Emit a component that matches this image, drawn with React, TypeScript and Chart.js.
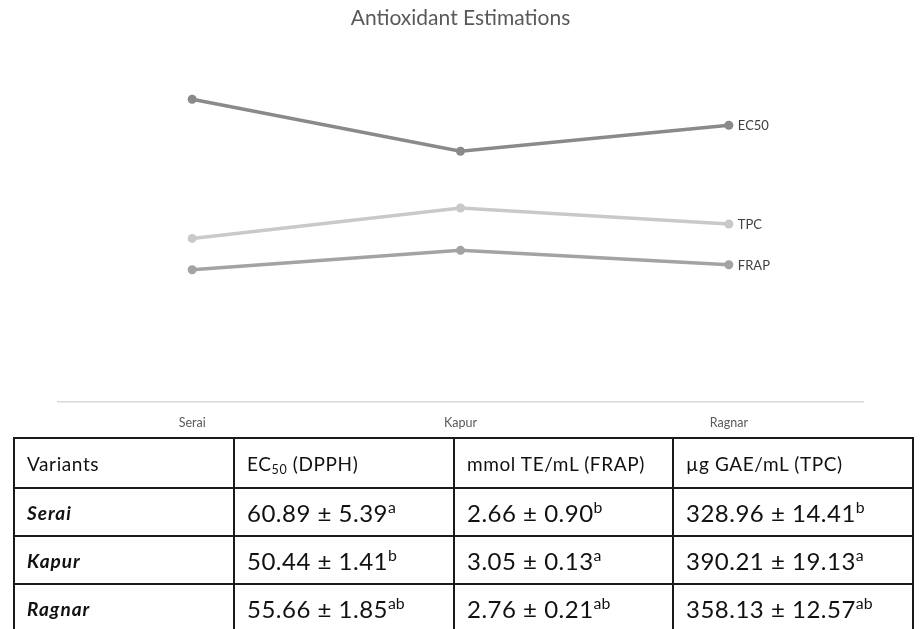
import React, { useEffect, useRef } from "react";
import { Chart, registerables } from "chart.js";

Chart.register(...registerables);

const categories = ["Serai", "Kapur", "Ragnar"];
const seriesNames = ["EC50", "TPC", "FRAP"];
// plotted values (EC50 as is, TPC /10, FRAP x10)
const ec50Values = [60.89, 50.44, 55.66];
const tpcValues = [32.9, 39.02, 35.81];
const frapValues = [26.6, 30.5, 27.6];
const seriesColors = ["#8a8a8a", "#c9c9c9", "#a3a3a3"];

const tableHeaders = ["Variants", "EC50 (DPPH)", "mmol TE/mL (FRAP)", "µg GAE/mL (TPC)"];
const ec50Text = ["60.89 ± 5.39", "50.44 ± 1.41", "55.66 ± 1.85"];
const ec50Sup = ["a", "b", "ab"];
const frapText = ["2.66 ± 0.90", "3.05 ± 0.13", "2.76 ± 0.21"];
const frapSup = ["b", "a", "ab"];
const tpcText = ["328.96 ± 14.41", "390.21 ± 19.13", "358.13 ± 12.57"];
const tpcSup = ["b", "a", "ab"];

const FONT = "Lato, 'Open Sans', sans-serif";

const endLabels = {
  id: "endLabels",
  afterDatasetsDraw(chart: any) {
    const ctx = chart.ctx;
    ctx.save();
    ctx.font = `13px ${FONT}`;
    ctx.fillStyle = "#404040";
    ctx.textBaseline = "middle";
    ctx.textAlign = "left";
    chart.data.datasets.forEach((ds: any, i: number) => {
      const meta = chart.getDatasetMeta(i);
      const pt = meta.data[meta.data.length - 1];
      if (pt) ctx.fillText(ds.label, pt.x + 9, pt.y + 1);
    });
    ctx.restore();
  },
};

function ChartView() {
  const ref = useRef<HTMLCanvasElement | null>(null);
  useEffect(() => {
    if (!ref.current) return;
    const values = [ec50Values, tpcValues, frapValues];
    const chart = new Chart(ref.current, {
      type: "line",
      data: {
        labels: categories,
        datasets: seriesNames.map((n, i) => ({
          label: n,
          data: values[i],
          borderColor: seriesColors[i],
          backgroundColor: seriesColors[i],
          borderWidth: 3.5,
          pointRadius: 4.5,
          pointBorderWidth: 0,
          tension: 0,
        })),
      },
      options: {
        animation: false,
        responsive: false,
        maintainAspectRatio: false,
        layout: { padding: { left: 58, right: 57, top: 0, bottom: 6 } },
        plugins: {
          legend: { display: false },
          tooltip: { enabled: false },
          title: {
            display: true,
            text: "Antioxidant Estimations",
            color: "#595959",
            font: { family: FONT, size: 21, weight: "normal" },
            padding: { top: 6, bottom: 22.8 },
          },
        },
        scales: {
          x: {
            offset: true,
            grid: { display: false, drawTicks: false },
            border: { display: true, color: "#d9d9d9", width: 1.5 },
            ticks: { color: "#595959", font: { family: FONT, size: 12.5 }, padding: 13 },
          },
          y: { display: false, min: 0, max: 70 },
        },
      },
      plugins: [endLabels],
    });
    return () => chart.destroy();
  }, []);
  return (
    <div style={{ position: "absolute", left: 0, top: 0, width: 920, height: 449 }}>
      <canvas ref={ref} width={920} height={449} style={{ display: "block", width: 920, height: 449 }} />
    </div>
  );
}

const cellBase: React.CSSProperties = {
  border: "2px solid #1a1a1a",
  padding: "0 0 0 12px",
  textAlign: "left",
  verticalAlign: "middle",
  color: "#111",
  whiteSpace: "nowrap",
  background: "#fff",
};

const headStyle: React.CSSProperties = { ...cellBase, fontSize: 19, letterSpacing: 0.6 };
const nameStyle: React.CSSProperties = {
  ...cellBase,
  fontSize: 19,
  fontWeight: "bold",
  fontStyle: "italic",
  letterSpacing: 1,
};
const valStyle: React.CSSProperties = { ...cellBase, fontSize: 24, letterSpacing: 0.5 };
const supStyle: React.CSSProperties = { fontSize: "0.66em", verticalAlign: "0.55em", lineHeight: 0, letterSpacing: 0 };

export default function App() {
  const colW = [220, 220, 219, 240];
  return (
    <div style={{ position: "fixed", left: 0, top: 0, width: 920, height: 629, overflow: "hidden", background: "#fff" }}>
      <ChartView />
      <table
        style={{
          position: "absolute",
          left: 13,
          top: 437,
          borderCollapse: "collapse",
          fontFamily: FONT,
          tableLayout: "fixed",
          width: 900,
        }}
      >
        <colgroup>
          {colW.map((w, i) => (
            <col key={i} style={{ width: w }} />
          ))}
        </colgroup>
        <tbody>
          <tr style={{ height: 50 }}>
            <td style={headStyle}>{tableHeaders[0]}</td>
            <td style={headStyle}>
              EC<sub style={{ fontSize: "0.66em", verticalAlign: "-0.25em", lineHeight: 0 }}>50</sub> (DPPH)
            </td>
            <td style={headStyle}>{tableHeaders[2]}</td>
            <td style={headStyle}>{tableHeaders[3]}</td>
          </tr>
          {categories.map((c, i) => (
            <tr key={c} style={{ height: 48 }}>
              <td style={nameStyle}>{c}</td>
              <td style={valStyle}>
                {ec50Text[i]}
                <sup style={supStyle}>{ec50Sup[i]}</sup>
              </td>
              <td style={valStyle}>
                {frapText[i]}
                <sup style={supStyle}>{frapSup[i]}</sup>
              </td>
              <td style={valStyle}>
                {tpcText[i]}
                <sup style={supStyle}>{tpcSup[i]}</sup>
              </td>
            </tr>
          ))}
        </tbody>
      </table>
    </div>
  );
}
